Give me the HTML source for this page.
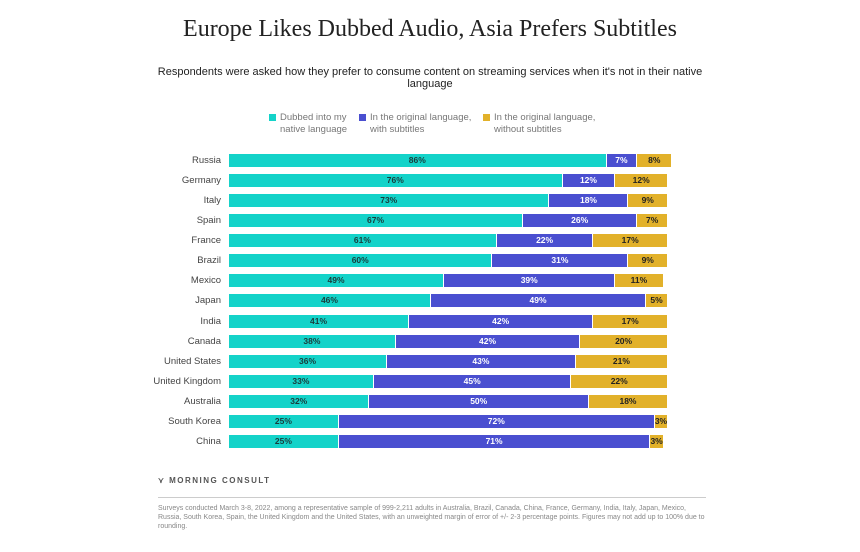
<!DOCTYPE html>
<html><head><meta charset="utf-8"><style>
body{margin:0;width:860px;height:552px;background:#fff;position:relative;font-family:"Liberation Sans",sans-serif;overflow:hidden}
.t{position:absolute;left:0;width:860px;text-align:center;top:16px;font-family:"Liberation Serif",serif;font-size:24px;color:#222}
.s{position:absolute;left:150px;width:560px;text-align:center;top:66px;font-size:11px;color:#222;line-height:12px}
.lg{position:absolute;top:112px;font-size:9.5px;color:#777;line-height:12px}
.lg i{position:absolute;left:-11px;top:2px;width:7px;height:7px}
.lab{position:absolute;right:639px;font-size:9.5px;color:#444;text-align:right}
.seg{position:absolute;height:13px;font-size:8.5px;font-weight:bold;text-align:center;line-height:13px}
.a{background:#14d3c9;color:#1a3b3b}.b{background:#4a4fd0;color:#fff}.c{background:#e2b12a;color:#222}
.f{position:absolute;left:158px;top:504px;width:550px;font-size:7px;color:#888;line-height:9px}
</style></head><body>
<div class="t">Europe Likes Dubbed Audio, Asia Prefers Subtitles</div>
<div class="s">Respondents were asked how they prefer to consume content on streaming services when it's not in their native language</div>
<div class="lg" style="left:280px"><i style="background:#14d3c9"></i>Dubbed into my<br>native language</div>
<div class="lg" style="left:370px"><i style="background:#4a4fd0"></i>In the original language,<br>with subtitles</div>
<div class="lg" style="left:494px"><i style="background:#e2b12a"></i>In the original language,<br>without subtitles</div>
<div id="c"></div>
<div style="position:absolute;left:158px;top:476px;font-size:8px;letter-spacing:1.5px;color:#555;font-weight:bold">⋎ MORNING CONSULT</div>
<div style="position:absolute;left:158px;top:497px;width:548px;height:1px;background:#ccc"></div>
<div class="f">Surveys conducted March 3-8, 2022, among a representative sample of 999-2,211 adults in Australia, Brazil, Canada, China, France, Germany, India, Italy, Japan, Mexico, Russia, South Korea, Spain, the United Kingdom and the United States, with an unweighted margin of error of +/- 2-3 percentage points. Figures may not add up to 100% due to rounding.</div>
<script>
var d=[["Russia",86,7,8],["Germany",76,12,12],["Italy",73,18,9],["Spain",67,26,7],["France",61,22,17],["Brazil",60,31,9],["Mexico",49,39,11],["Japan",46,49,5],["India",41,42,17],["Canada",38,42,20],["United States",36,43,21],["United Kingdom",33,45,22],["Australia",32,50,18],["South Korea",25,72,3],["China",25,71,3]];
var h="",k=4.39;
d.forEach(function(r,i){var y=154+i*20.07;h+='<div class="lab" style="top:'+(y+1)+'px">'+r[0]+'</div>';var x=229;["a","b","c"].forEach(function(c,j){var w=r[j+1]*k;h+='<div class="seg '+c+'" style="left:'+x+'px;top:'+y+'px;width:'+(w-1)+'px">'+r[j+1]+'%</div>';x+=w;});});
document.getElementById("c").innerHTML=h;
</script>
</body></html>
